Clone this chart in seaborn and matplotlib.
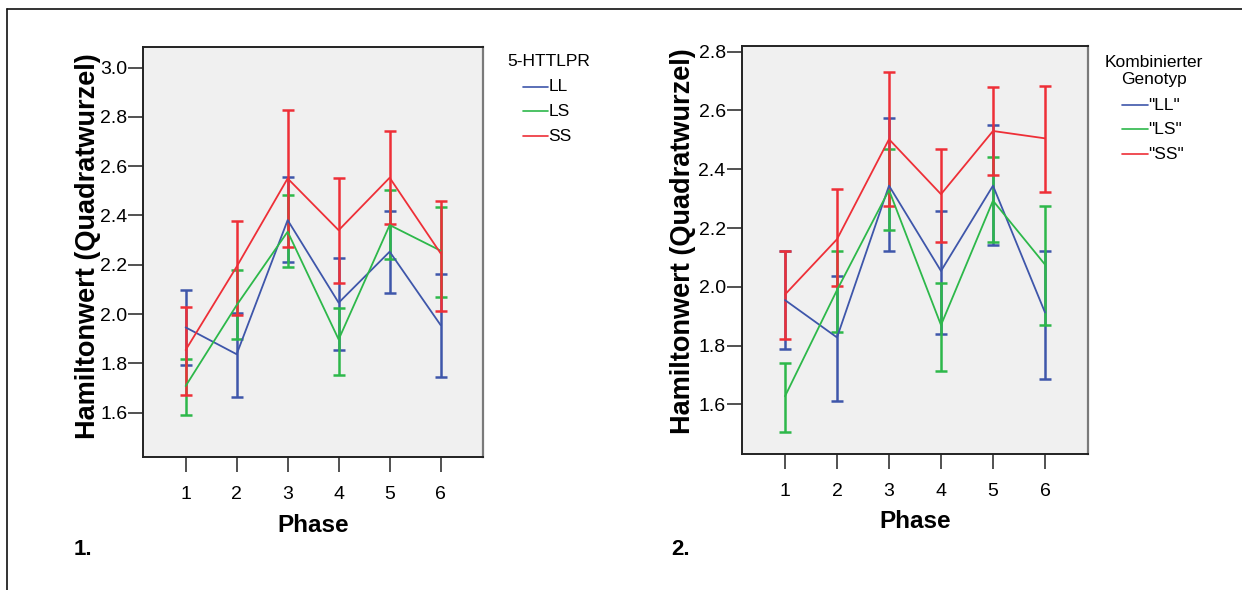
import numpy as np
import pandas as pd
import matplotlib
matplotlib.use("Agg")
import matplotlib.pyplot as plt
from matplotlib.lines import Line2D
import seaborn as sns

# ---------------- data ----------------
phases = [1, 2, 3, 4, 5, 6]

# Panel 1: 5-HTTLPR
genotypes1 = ["LL", "LS", "SS"]
p1_LL_mean = [1.946, 1.837, 2.381, 2.046, 2.253, 1.955]
p1_LL_lo = [1.795, 1.662, 2.212, 1.855, 2.086, 1.746]
p1_LL_hi = [2.097, 2.003, 2.557, 2.228, 2.418, 2.162]
p1_LS_mean = [1.708, 2.036, 2.334, 1.897, 2.361, 2.257]
p1_LS_lo = [1.592, 1.899, 2.192, 1.753, 2.223, 2.069]
p1_LS_hi = [1.818, 2.178, 2.484, 2.024, 2.504, 2.433]
p1_SS_mean = [1.854, 2.192, 2.550, 2.340, 2.553, 2.246]
p1_SS_lo = [1.673, 1.997, 2.270, 2.127, 2.366, 2.013]
p1_SS_hi = [2.030, 2.377, 2.827, 2.553, 2.743, 2.457]

# Panel 2: Kombinierter Genotyp
genotypes2 = ['"LL"', '"LS"', '"SS"']
p2_LL_mean = [1.955, 1.828, 2.344, 2.054, 2.344, 1.913]
p2_LL_lo = [1.788, 1.611, 2.123, 1.839, 2.141, 1.686]
p2_LL_hi = [2.122, 2.038, 2.575, 2.259, 2.551, 2.122]
p2_LS_mean = [1.628, 1.989, 2.329, 1.870, 2.293, 2.076]
p2_LS_lo = [1.507, 1.847, 2.193, 1.714, 2.152, 1.871]
p2_LS_hi = [1.740, 2.123, 2.469, 2.013, 2.443, 2.276]
p2_SS_mean = [1.974, 2.162, 2.502, 2.315, 2.530, 2.505]
p2_SS_lo = [1.822, 2.003, 2.276, 2.153, 2.380, 2.322]
p2_SS_hi = [2.123, 2.332, 2.729, 2.470, 2.680, 2.684]

y_ticks1 = [1.6, 1.8, 2.0, 2.2, 2.4, 2.6, 2.8, 3.0]
y_ticks2 = [1.6, 1.8, 2.0, 2.2, 2.4, 2.6, 2.8]

ylabel_text = "Hamiltonwert (Quadratwurzel)"
xlabel_text = "Phase"
legend_title1 = "5-HTTLPR"
legend_title2 = "Kombinierter\nGenotyp"


def build_df(genos, means, los, his):
    rows = []
    for g, m, lo, hi in zip(genos, means, los, his):
        for p, mv, lv, hv in zip(phases, m, lo, hi):
            rows.append({"Phase": p, "Genotyp": g, "mean": mv, "lo": lv, "hi": hv})
    return pd.DataFrame(rows)


df1 = build_df(genotypes1,
               [p1_LL_mean, p1_LS_mean, p1_SS_mean],
               [p1_LL_lo, p1_LS_lo, p1_SS_lo],
               [p1_LL_hi, p1_LS_hi, p1_SS_hi])
df2 = build_df(genotypes2,
               [p2_LL_mean, p2_LS_mean, p2_SS_mean],
               [p2_LL_lo, p2_LS_lo, p2_SS_lo],
               [p2_LL_hi, p2_LS_hi, p2_SS_hi])

# ---------------- style ----------------
sns.set_style("ticks")
plt.rcParams["font.family"] = ["Liberation Sans", "DejaVu Sans"]
plt.rcParams["text.color"] = "black"
plt.rcParams["axes.labelcolor"] = "black"
plt.rcParams["xtick.color"] = "black"
plt.rcParams["ytick.color"] = "black"

colors = ["#3E56AA", "#2DB84A", "#EE2F37"]
bg = "#F0F0F0"

fig = plt.figure(figsize=(12.42, 5.90), dpi=100)

ax1 = fig.add_axes([143.3 / 1242, 1 - 457.3 / 590, (482.7 - 143.3) / 1242, (457.3 - 47.3) / 590])
ax2 = fig.add_axes([741.7 / 1242, 1 - 454.2 / 590, (1088.3 - 741.7) / 1242, (454.2 - 46.0) / 590])


def draw_panel(ax, df, genos, ylim, xlim, yticks):
    pal = dict(zip(genos, colors))
    ax.set_facecolor(bg)
    for g in genos:
        sub = df[df["Genotyp"] == g]
        ax.errorbar(sub["Phase"], sub["mean"],
                    yerr=[sub["mean"] - sub["lo"], sub["hi"] - sub["mean"]],
                    fmt="none", ecolor=pal[g], elinewidth=1.8,
                    capsize=4.4, capthick=1.8, zorder=2)
    sns.lineplot(data=df, x="Phase", y="mean", hue="Genotyp", hue_order=genos,
                 palette=pal, errorbar=None, legend=False, linewidth=1.3,
                 ax=ax, zorder=3)
    ax.set_xlim(*xlim)
    ax.set_ylim(*ylim)
    ax.set_xticks(phases)
    ax.set_xticklabels([str(p) for p in phases])
    ax.set_yticks(yticks)
    ax.set_yticklabels([f"{t:.1f}" for t in yticks])
    ax.tick_params(axis="x", length=10.5, width=1.1, pad=10.5, labelsize=14, color="#222222")
    ax.tick_params(axis="y", length=10.5, width=1.1, pad=1, labelsize=14, color="#222222")
    for s in ["left", "bottom", "top"]:
        ax.spines[s].set_color("#222222")
        ax.spines[s].set_linewidth(1.4)
    ax.spines["right"].set_color("#7a7a7a")
    ax.spines["right"].set_linewidth(1.6)
    ax.set_xlabel(xlabel_text, fontsize=17.5, fontweight="bold")
    ax.set_ylabel(ylabel_text, fontsize=19.5, fontweight="bold")
    ax.yaxis.label.set_va("center")
    ax.xaxis.label.set_va("center")


draw_panel(ax1, df1, genotypes1, (1.419, 3.082), (0.17, 6.824), y_ticks1)
draw_panel(ax2, df2, genotypes2, (1.431, 2.819), (0.167, 6.833), y_ticks2)

# label positions (axes coords), label centres
ax1.yaxis.set_label_coords((88.5 - 143.3) / 339.4, 1 - (246 - 47.3) / 410.0)
ax2.yaxis.set_label_coords((682.5 - 741.7) / 346.6, 1 - (241 - 46.0) / 408.2)
ax1.xaxis.set_label_coords(0.5, -(525 - 457.3) / 410.0)
ax2.xaxis.set_label_coords(0.5, -(522 - 454.2) / 408.2)


# ---------------- legends (manual, SPSS style) ----------------
def fx(x):
    return x / 1242


def fy(y):
    return 1 - y / 590


leg_fs = 12.5
# legend 1
fig.text(fx(507), fy(61.7), legend_title1, fontsize=leg_fs, ha="left", va="center")
for i, (g, c) in enumerate(zip(genotypes1, colors)):
    yy = [86.7, 111.0, 136.2][i]
    fig.add_artist(Line2D([fx(522.7), fx(548.3)], [fy(yy), fy(yy)], color=c, lw=1.2))
    fig.text(fx(548.5), fy(yy), g, fontsize=leg_fs, ha="left", va="center")

# legend 2
fig.text(fx(1154), fy(71), legend_title2, fontsize=leg_fs, ha="center", va="center",
         linespacing=1.15, multialignment="center")
for i, (g, c) in enumerate(zip(genotypes2, colors)):
    yy = [105.0, 129.3, 154.5][i]
    fig.add_artist(Line2D([fx(1121.7), fx(1148.3)], [fy(yy), fy(yy)], color=c, lw=1.2))
    fig.text(fx(1148.5), fy(yy), g, fontsize=leg_fs, ha="left", va="center")

# panel numbers
fig.text(fx(74), fy(549.5), "1.", fontsize=16, fontweight="bold", ha="left", va="center")
fig.text(fx(671), fy(549.5), "2.", fontsize=16, fontweight="bold", ha="left", va="center")

# outer frame (top + left)
fig.add_artist(Line2D([fx(7.3), fx(1242)], [fy(9.3), fy(9.3)], color="#111111", lw=1.2))
fig.add_artist(Line2D([fx(7.3), fx(7.3)], [fy(9.3), fy(590)], color="#111111", lw=1.2))

fig.savefig("out.png", dpi=100, facecolor="white")
